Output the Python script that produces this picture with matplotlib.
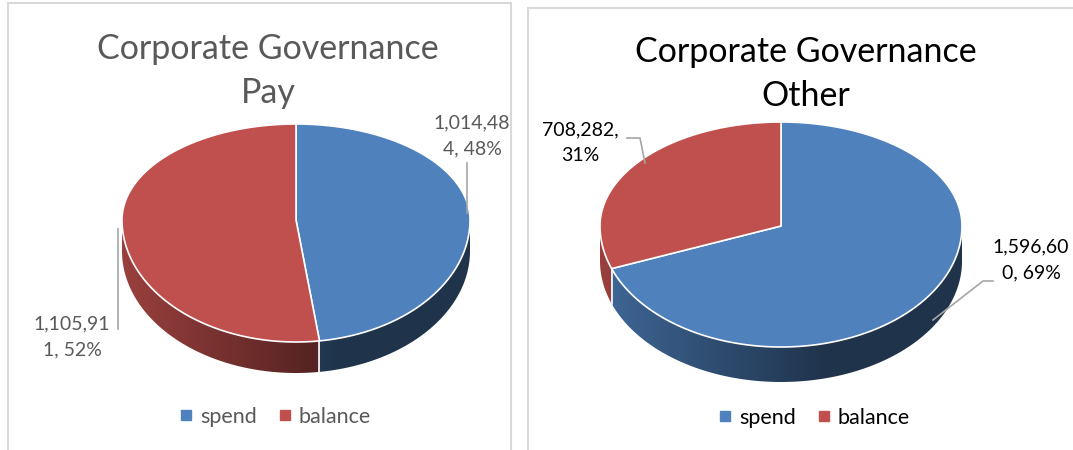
import numpy as np
import matplotlib.pyplot as plt
from matplotlib.patches import Polygon, Rectangle
from matplotlib.lines import Line2D
from matplotlib.colors import to_rgb

plt.rcParams['font.family'] = ['Lato', 'DejaVu Sans']

categories = ["spend", "balance"]
pay_values = [1014484, 1105911]
other_values = [1596600, 708282]
titles = ["Corporate Governance\nPay", "Corporate Governance\nOther"]
colors = ["#4F81BD", "#C0504D"]

W, H = 1073, 450
fig = plt.figure(figsize=(W / 100, H / 100), dpi=100)


def ell(cx, cy, rx, ryt, ryb, th):
    # th: degrees clockwise from 12 o'clock, y grows downward
    t = np.radians(th)
    c = np.cos(t)
    x = cx + rx * np.sin(t)
    y = cy - np.where(c > 0, ryt, ryb) * c
    return x, y


def draw_pie(ax, values, cx, cy, rx, ryt, ryb, depth):
    fr = np.array(values, dtype=float) / sum(values)
    edges = np.concatenate([[0], np.cumsum(fr) * 360])
    xs = np.linspace(0, 1, 256)
    shade = np.maximum(0.4, 0.8 - 0.64 * xs)
    # side walls with a left-to-right shading
    for i, col in enumerate(colors):
        lo, hi = max(edges[i], 90), min(edges[i + 1], 270)
        if lo >= hi:
            continue
        th = np.linspace(lo, hi, 200)
        x, y = ell(cx, cy, rx, ryt, ryb, th)
        pts = np.column_stack([np.r_[x, x[::-1]], np.r_[y, (y + depth)[::-1]]])
        clip = Polygon(pts, closed=True, facecolor='none', edgecolor='none')
        ax.add_patch(clip)
        img = (np.array(to_rgb(col))[None, None, :] * shade[None, :, None])
        im = ax.imshow(img, extent=(cx - rx, cx + rx, cy + ryb + depth, cy - ryt),
                       aspect='auto', interpolation='bilinear', zorder=2)
        im.set_clip_path(clip)
    for a in edges[1:-1]:
        if 90 < a < 270:
            x, y = ell(cx, cy, rx, ryt, ryb, a)
            ax.plot([x, x], [y, y + depth], color='white', lw=1.2, zorder=3)
    # top surface
    for i, col in enumerate(colors):
        th = np.linspace(edges[i], edges[i + 1], 300)
        x, y = ell(cx, cy, rx, ryt, ryb, th)
        pts = np.column_stack([np.r_[cx, x], np.r_[cy, y]])
        ax.add_patch(Polygon(pts, closed=True, facecolor=col, edgecolor='white',
                             lw=1.2, joinstyle='round', zorder=4))


def label_text(v, total):
    s = f"{v:,}, {round(100 * v / total)}%"
    return s[:8] + "\n" + s[8:].strip()


def setup(ax, x0, x1):
    ax.set_xlim(x0, x1)
    ax.set_ylim(H, 0)
    ax.axis('off')


def legend(ax, x, y, tc):
    handles = [Line2D([], [], marker='s', ls='', color=c, markersize=7) for c in colors]
    ax.legend(handles, categories, loc='center', bbox_to_anchor=(x, y),
              bbox_transform=ax.transData, ncol=2, frameon=False, fontsize=15.5,
              handletextpad=0.15, columnspacing=0.8, labelcolor=tc, handlelength=1.0)


# left panel
axl = fig.add_axes([0, 0, 527 / W, 1])
axl.add_patch(Rectangle((8, 3), 503, 470, facecolor='white', edgecolor='#D9D9D9', lw=1.5))
draw_pie(axl, pay_values, 296, 220, 174, 96, 122, 31)
tot = sum(pay_values)
gray = '#595959'
axl.text(268, 71, titles[0], ha='center', va='center', fontsize=24.5, color=gray, linespacing=1.48)
axl.text(472, 136, label_text(pay_values[0], tot), ha='center', va='center', fontsize=14,
         color=gray, linespacing=1.6)
axl.text(72, 337, label_text(pay_values[1], tot), ha='center', va='center', fontsize=14,
         color=gray, linespacing=1.6)
axl.plot([467, 467], [163, 213], color='#A6A6A6', lw=1.2, zorder=5)
axl.plot([118, 118], [329, 229], color='#A6A6A6', lw=1.2, zorder=5)
legend(axl, 273, 417, gray)
setup(axl, 0, 527)

# right panel
axr = fig.add_axes([527 / W, 0, 1 - 527 / W, 1])
axr.add_patch(Rectangle((527.5, 8), 600, 470, facecolor='white', edgecolor='#D9D9D9', lw=1.5))
draw_pie(axr, other_values, 781, 226, 181, 104, 121, 35)
tot = sum(other_values)
axr.text(806, 74, titles[1], ha='center', va='center', fontsize=24.5, color='black', linespacing=1.48)
axr.text(580, 143, label_text(other_values[1], tot), ha='center', va='center', fontsize=14,
         color='black', linespacing=1.6)
axr.text(1031, 260, label_text(other_values[0], tot), ha='center', va='center', fontsize=14,
         color='black', linespacing=1.6)
axr.plot([627, 640, 645], [138, 138, 163], color='#A6A6A6', lw=1.2, zorder=5)
axr.plot([993, 983, 933], [281, 281, 320], color='#A6A6A6', lw=1.2, zorder=5)
legend(axr, 812, 418, 'black')
setup(axr, 527, W)

fig.savefig('out.png', dpi=100)
